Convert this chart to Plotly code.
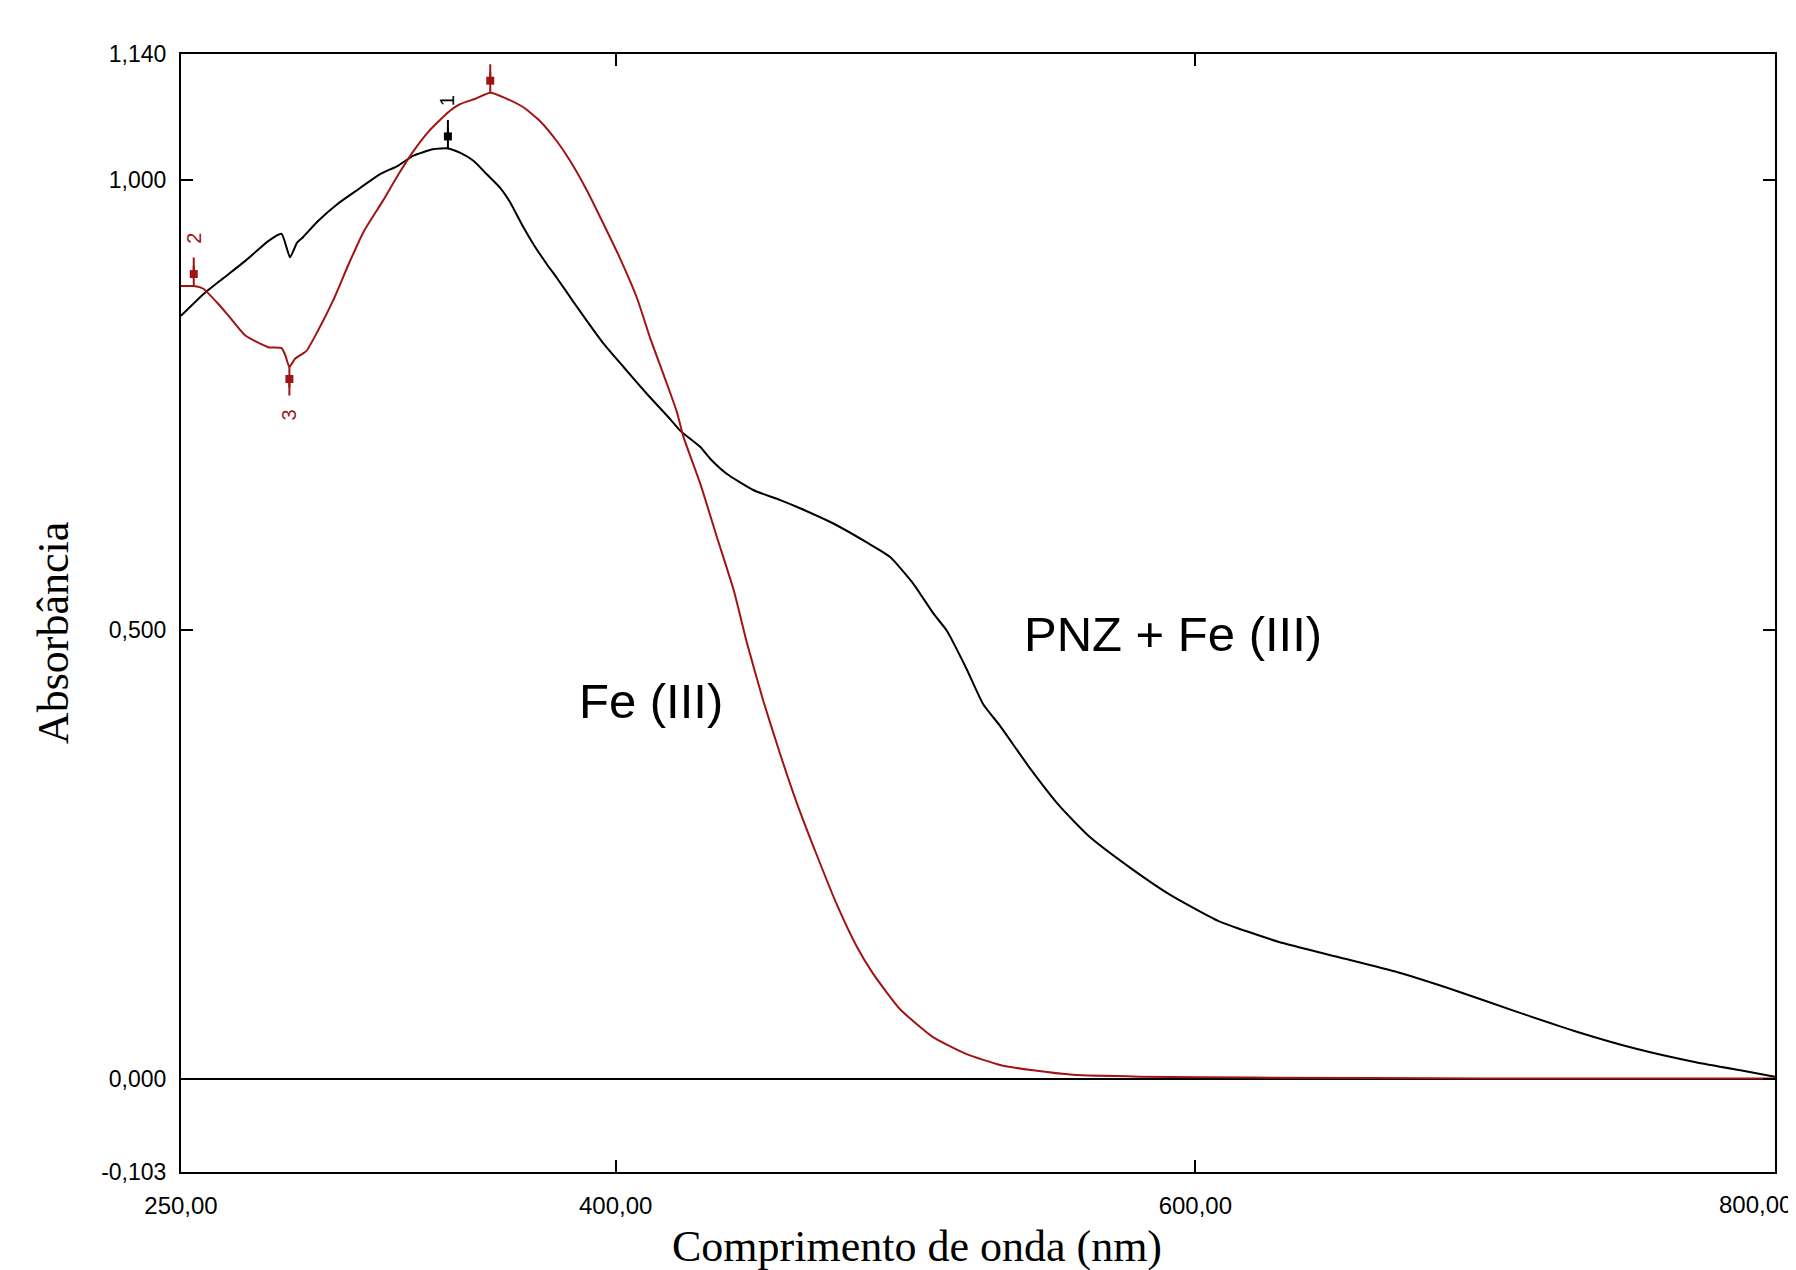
import numpy as np
import plotly.graph_objects as go

# ---------------- data ----------------
pnz_fe_nm = [250, 257.7, 264.3, 272.2, 280.1, 284.7, 287.6, 290.0, 292.0, 297.2, 303.9, 311.8, 318.4,
             325.0, 330.2, 336.9, 342.1, 346.4, 351.0, 355.6, 360.2, 363.6, 368.2, 371.7, 376.3,
             379.7, 385.5, 390.1, 395.8, 402.7, 410.8, 418.8, 422.3, 429.2, 432.6, 438.4, 447.6,
             456.8, 463.6, 475.1, 486.6, 494.6, 502.7, 509.6, 514.2, 521.1, 526.8, 532.6, 542.9,
             553.1, 563.4, 577.2, 590.9, 608.0, 628.6, 649.2, 669.8, 690.4, 711.0, 731.6, 752.1,
             772.7, 789.9, 800]
pnz_fe_abs = [0.849, 0.873, 0.890, 0.910, 0.932, 0.940, 0.914, 0.930, 0.936, 0.954, 0.973, 0.991, 1.006,
              1.016, 1.027, 1.034, 1.035, 1.030, 1.021, 1.006, 0.991, 0.975, 0.947, 0.928, 0.906,
              0.891, 0.864, 0.843, 0.818, 0.792, 0.762, 0.734, 0.721, 0.703, 0.690, 0.673, 0.655,
              0.644, 0.635, 0.618, 0.597, 0.581, 0.551, 0.518, 0.499, 0.456, 0.417, 0.393, 0.346,
              0.304, 0.270, 0.236, 0.206, 0.176, 0.153, 0.136, 0.119, 0.098, 0.075, 0.053, 0.034,
              0.019, 0.009, 0.003]

fe_nm = [250, 254.4, 257.7, 262.9, 266.9, 272.2, 280.1, 284.7, 286.0, 287.4, 289.3, 293.3, 297.2,
         302.5, 307.8, 313.1, 319.7, 325.0, 330.2, 335.5, 342.1, 346.1, 351.4, 356.7, 361.9, 368.5,
         374.0, 379.7, 384.3, 390.1, 395.8, 401.6, 407.3, 412.0, 417.7, 421.1, 423.4, 429.2, 434.9,
         440.7, 445.3, 450.9, 456.7, 462.4, 469.3, 476.2, 483.1, 488.9, 498.1, 509.5, 521.1, 532.6,
         544.0, 557.8, 580.8, 620, 700, 800]
fe_abs = [0.882, 0.882, 0.879, 0.862, 0.847, 0.827, 0.814, 0.813, 0.805, 0.792, 0.801, 0.810, 0.832,
          0.866, 0.906, 0.943, 0.977, 1.006, 1.032, 1.054, 1.075, 1.084, 1.090, 1.097, 1.091, 1.080,
          1.065, 1.043, 1.021, 0.988, 0.951, 0.912, 0.869, 0.823, 0.773, 0.742, 0.714, 0.662, 0.603,
          0.544, 0.485, 0.421, 0.362, 0.308, 0.250, 0.195, 0.148, 0.117, 0.078, 0.047, 0.028, 0.016,
          0.010, 0.005, 0.003, 0.002, 0.001, 0.001]

# peak-pick markers: wavelength, series, label, direction (+1 above, -1 below)
peak_nm = [342.1, 254.4, 287.4, 356.7]
peak_series = ["pnz", "fe", "fe", "fe"]
peak_labels = ["1", "2", "3", ""]
peak_dir = [1, 1, -1, 1]

x_ticks = [250, 400, 600, 800]
y_ticks = [-0.103, 0.0, 0.5, 1.0, 1.14]
x_range = [250, 800]
y_range = [-0.103, 1.14]

BLACK = "#000000"
RED = "#A01414"
SANS = "Liberation Sans, Arial"
SERIF = "Liberation Serif, Times New Roman"


def fmt_x(v):
    return f"{v:.2f}".replace(".", ",")


def fmt_y(v):
    return f"{v:.3f}".replace(".", ",")


fig = go.Figure()
fig.add_trace(go.Scatter(x=pnz_fe_nm, y=pnz_fe_abs, mode="lines",
                         line=dict(color=BLACK, width=2, shape="spline", smoothing=0.5),
                         name="PNZ + Fe (III)"))
fig.add_trace(go.Scatter(x=fe_nm, y=fe_abs, mode="lines",
                         line=dict(color=RED, width=2, shape="spline", smoothing=0.5),
                         name="Fe (III)"))

series = {"pnz": (pnz_fe_nm, pnz_fe_abs, BLACK), "fe": (fe_nm, fe_abs, RED)}
annotations = []
for nm, s, lab, d in zip(peak_nm, peak_series, peak_labels, peak_dir):
    xs, ys, col = series[s]
    yv = float(np.interp(nm, xs, ys))
    # stem
    annotations.append(dict(x=nm, y=yv, xref="x", yref="y", text="", showarrow=True,
                            ax=0, ay=-30 * d, arrowhead=0, arrowwidth=2, arrowcolor=col))
    # square marker on the stem
    annotations.append(dict(x=nm, y=yv, xref="x", yref="y", text="", showarrow=True,
                            ax=0, ay=-22 * d, standoff=12, arrowhead=7, arrowsize=1,
                            arrowwidth=2, arrowcolor=col))
    if lab:
        annotations.append(dict(x=nm, y=yv, xref="x", yref="y", text=lab, showarrow=False,
                                textangle=-90, yshift=48 * d,
                                font=dict(family=SANS, size=20, color=col)))

# last x tick label: kept inside the page (right-aligned at the edge)
annotations.append(dict(x=x_ticks[-1], y=-0.0295, xref="x", yref="paper", text=fmt_x(x_ticks[-1]),
                        showarrow=False, xanchor="right", yanchor="middle", xshift=19,
                        font=dict(family=SANS, size=24, color=BLACK)))

annotations += [
    dict(x=592.3, y=0.495, xref="x", yref="y", text="PNZ + Fe (III)", showarrow=False,
         xanchor="center", yanchor="middle",
         font=dict(family=SANS, size=49, color=BLACK)),
    dict(x=412.3, y=0.421, xref="x", yref="y", text="Fe (III)", showarrow=False,
         xanchor="center", yanchor="middle",
         font=dict(family=SANS, size=49, color=BLACK)),
    dict(x=-0.0803, y=0.482, xref="paper", yref="paper", text="Absorbância", showarrow=False,
         xanchor="center", yanchor="middle", textangle=-90,
         font=dict(family=SERIF, size=44, color=BLACK)),
    dict(x=0.462, y=-0.0662, xref="paper", yref="paper", text="Comprimento de onda (nm)",
         showarrow=False, xanchor="center", yanchor="middle",
         font=dict(family=SERIF, size=44, color=BLACK)),
]

fig.update_layout(
    width=1788, height=1262,
    margin=dict(l=173, r=21, t=46, b=98, autoexpand=False),
    paper_bgcolor="white", plot_bgcolor="white",
    showlegend=False,
    annotations=annotations,
    xaxis=dict(range=x_range, tickvals=x_ticks,
               ticktext=[fmt_x(v) for v in x_ticks[:-1]] + [""],
               showgrid=False, zeroline=False, showline=True, mirror="ticks",
               linecolor=BLACK, linewidth=2, ticks="inside", ticklen=12, tickwidth=2,
               tickcolor=BLACK, ticklabelstandoff=11, automargin=False,
               ticklabeloverflow="allow",
               tickfont=dict(family=SANS, size=24, color=BLACK)),
    yaxis=dict(range=y_range, tickvals=y_ticks,
               ticktext=[fmt_y(v) for v in y_ticks],
               showgrid=False, zeroline=True, zerolinecolor=BLACK, zerolinewidth=2,
               showline=True, mirror="ticks", automargin=False,
               linecolor=BLACK, linewidth=2, ticks="inside", ticklen=12, tickwidth=2,
               tickcolor=BLACK, ticklabelstandoff=8,
               tickfont=dict(family=SANS, size=23, color=BLACK)),
)

fig.write_html("out.html")
